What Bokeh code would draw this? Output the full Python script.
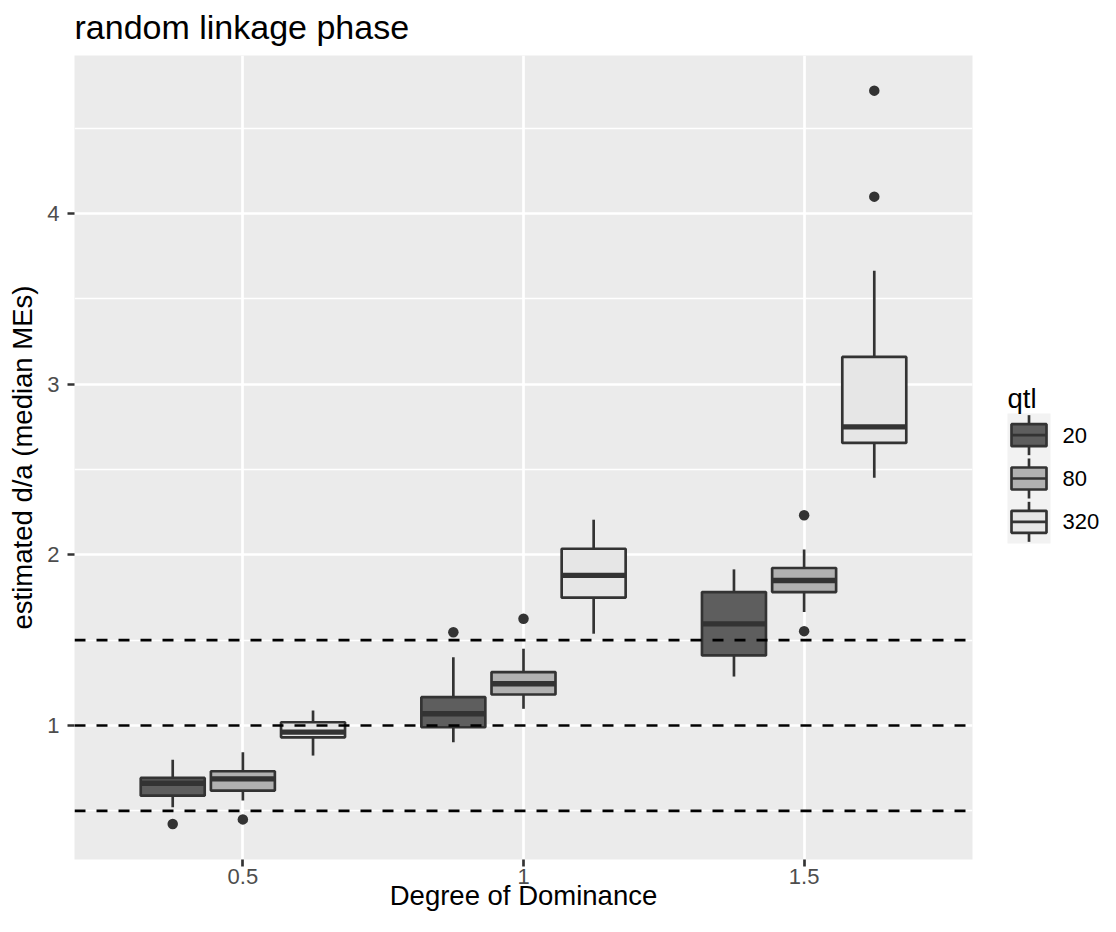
from bokeh.plotting import figure
from bokeh.models import Range1d, FixedTicker, Span, ColumnDataSource
from bokeh.layouts import row
from bokeh.embed import file_html
from bokeh.resources import INLINE
from bokeh.core.properties import value

# ---------------- data ----------------
groups = ["0.5", "1", "1.5"]
qtl_levels = ["20", "80", "320"]
fill_colors = ["#5E5E5E", "#B1B1B1", "#E6E6E6"]

box_group = ["0.5", "0.5", "0.5", "1", "1", "1", "1.5", "1.5", "1.5"]
box_qtl = ["20", "80", "320", "20", "80", "320", "20", "80", "320"]
whisker_low = [0.521, 0.560, 0.824, 0.902, 1.098, 1.538, 1.287, 1.665, 2.452]
q1 = [0.589, 0.619, 0.931, 0.990, 1.182, 1.749, 1.411, 1.782, 2.656]
median = [0.662, 0.687, 0.961, 1.069, 1.245, 1.880, 1.596, 1.850, 2.750]
q3 = [0.693, 0.732, 1.019, 1.166, 1.313, 2.036, 1.782, 1.923, 3.160]
whisker_high = [0.799, 0.843, 1.088, 1.400, 1.450, 2.206, 1.915, 2.032, 3.665]

outlier_group = ["0.5", "0.5", "1", "1", "1.5", "1.5", "1.5", "1.5"]
outlier_qtl = ["20", "80", "20", "80", "80", "80", "320", "320"]
outlier_value = [0.423, 0.450, 1.547, 1.626, 2.232, 1.553, 4.720, 4.099]

reference_lines = [0.5, 1.0, 1.5]
y_ticks = [1, 2, 3, 4]
y_minor = [0.5, 1.5, 2.5, 3.5, 4.5]

# ---------------- layout constants ----------------
FONT = "Liberation Sans"
DODGE = 0.25
BOX_W = 0.228
LW = 2.67
OUT = "#333333"
TOP, BOTTOM_BORDER, LEFT, RIGHT_BORDER = 55, 57, 74, 12

def xpos(g, q):
    return groups.index(g) + 1 + (qtl_levels.index(q) - 1) * DODGE

bx = [xpos(g, q) for g, q in zip(box_group, box_qtl)]
bcol = [fill_colors[qtl_levels.index(q)] for q in box_qtl]
src = ColumnDataSource(dict(x=bx, lo=whisker_low, q1=q1, med=median, q3=q3,
                            hi=whisker_high, color=bcol,
                            left=[v - BOX_W / 2 for v in bx],
                            right=[v + BOX_W / 2 for v in bx]))

W_MAIN, H = 984, 916
p = figure(width=W_MAIN, height=H, output_backend="svg", toolbar_location=None,
           x_range=Range1d(0.4, 3.6), y_range=Range1d(0.215, 4.926),
           min_border_left=LEFT, min_border_right=RIGHT_BORDER, min_border_top=TOP,
           min_border_bottom=BOTTOM_BORDER, title="random linkage phase")
p.background_fill_color = "#EBEBEB"
p.border_fill_color = "white"
p.outline_line_color = None

p.title.text_font = FONT
p.title.text_font_size = "34px"
p.title.text_font_style = "normal"
p.title.text_color = "black"
p.title.align = "left"
p.title.vertical_align = "top"
p.title.offset = 0
p.title.standoff = 15

# axes
p.xaxis.ticker = FixedTicker(ticks=[1, 2, 3])
p.xaxis.major_label_overrides = {i + 1: g for i, g in enumerate(groups)}
p.yaxis.ticker = FixedTicker(ticks=y_ticks, minor_ticks=y_minor)
p.yaxis.major_label_overrides = {t: str(t) for t in y_ticks}
for ax in (p.xaxis, p.yaxis):
    ax.axis_line_color = None
    ax.major_tick_line_color = OUT
    ax.major_tick_line_width = LW
    ax.major_tick_out = 7
    ax.major_tick_in = 0
    ax.minor_tick_line_color = None
    ax.major_label_text_font = FONT
    ax.major_label_text_font_size = "22px"
    ax.major_label_text_color = "#4D4D4D"
    ax.axis_label_text_font = FONT
    ax.axis_label_text_font_size = "27.5px"
    ax.axis_label_text_font_style = "normal"
    ax.axis_label_text_color = "black"
p.xaxis.axis_label = "Degree of Dominance"
p.yaxis.axis_label = "estimated d/a (median MEs)"
p.xaxis.major_label_standoff = 2
p.xaxis.axis_label_standoff = -7
p.yaxis.major_label_standoff = 8
p.yaxis.axis_label_standoff = 6

# grid
p.xgrid.ticker = FixedTicker(ticks=[1, 2, 3])
p.xgrid.grid_line_color = "white"
p.xgrid.grid_line_width = LW
p.ygrid.grid_line_color = "white"
p.ygrid.grid_line_width = LW
p.ygrid.minor_grid_line_color = "white"
p.ygrid.minor_grid_line_width = LW / 2

# boxes
p.segment(x0="x", y0="lo", x1="x", y1="q1", source=src, line_color=OUT, line_width=LW)
p.segment(x0="x", y0="q3", x1="x", y1="hi", source=src, line_color=OUT, line_width=LW)
p.quad(left="left", right="right", bottom="q1", top="q3", source=src,
       fill_color="color", line_color=OUT, line_width=LW)
p.segment(x0="left", y0="med", x1="right", y1="med", source=src,
          line_color=OUT, line_width=LW * 2)

# outliers
ox = [xpos(g, q) for g, q in zip(outlier_group, outlier_qtl)]
p.scatter(ox, outlier_value, marker="circle", size=10.5, fill_color=OUT, line_color=None)

# reference lines
for v in reference_lines:
    p.add_layout(Span(location=v, dimension="width", line_color="black",
                      line_width=LW, line_dash="11 11"))

# ---------------- legend figure (pixel coordinates; its frame is aligned with the main frame) ----------------
W_LEG = 1100 - W_MAIN
leg = figure(width=W_LEG, height=H, output_backend="svg", toolbar_location=None,
             x_range=Range1d(W_MAIN, W_MAIN + W_LEG),
             y_range=Range1d(H - BOTTOM_BORDER, TOP),
             x_axis_type=None, y_axis_type=None, min_border=0,
             min_border_top=TOP, min_border_bottom=BOTTOM_BORDER)
leg.outline_line_color = None
leg.background_fill_color = "white"
leg.border_fill_color = "white"
leg.grid.visible = False

KEY_L, KEY_T, KEY_W, KEY_H = 1007, 413, 43, 43.33
KEY_R = KEY_L + KEY_W
n = len(qtl_levels)
leg.quad(left=[KEY_L], right=[KEY_R], top=[KEY_T], bottom=[KEY_T + n * KEY_H],
         fill_color="#F2F2F2", line_color=None)
cy = [KEY_T + KEY_H * (i + 0.5) for i in range(n)]
kx = (KEY_L + KEY_R) / 2
leg.segment(x0=[kx] * n, x1=[kx] * n, y0=[c - 20 for c in cy], y1=[c + 20 for c in cy],
            line_color=OUT, line_width=LW)
leg.quad(left=[KEY_L + 4] * n, right=[KEY_R - 4] * n, top=[c - 11 for c in cy],
         bottom=[c + 11 for c in cy], fill_color=fill_colors, line_color=OUT, line_width=LW)
leg.segment(x0=[KEY_L + 4] * n, x1=[KEY_R - 4] * n, y0=cy, y1=cy,
            line_color=OUT, line_width=LW)
leg.text(x=[KEY_R + 12] * n, y=cy, text=qtl_levels, text_font=value(FONT),
         text_font_size="22px", text_color="black", text_baseline="middle",
         text_align="left")
leg.text(x=[KEY_L], y=[398], text=["qtl"], text_font=value(FONT),
         text_font_size="27.5px", text_color="black", text_baseline="alphabetic",
         text_align="left")

layout = row(p, leg)
open("out.html", "w").write(file_html(layout, INLINE))
